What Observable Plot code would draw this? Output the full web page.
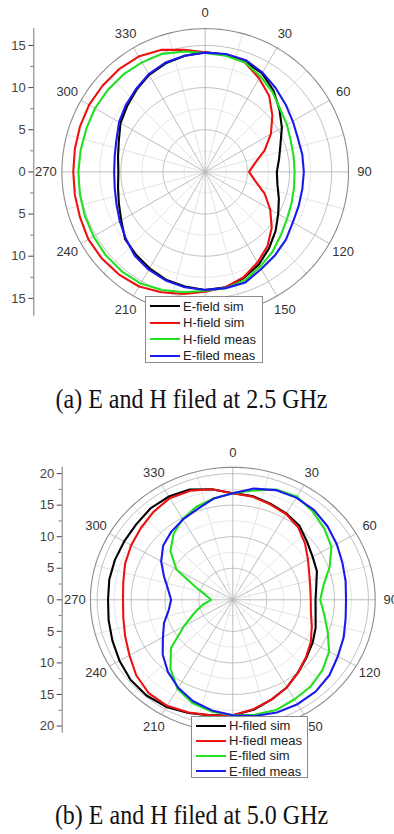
<!DOCTYPE html>
<html><head><meta charset="utf-8">
<script src="https://cdn.jsdelivr.net/npm/d3@7"></script>
<script src="https://cdn.jsdelivr.net/npm/@observablehq/plot@0.6"></script>
<style>
body{margin:0;background:#fff;width:394px;height:834px;position:relative;overflow:hidden;font-family:Arial,"Liberation Sans",sans-serif;}
.panel{position:absolute;left:0;}
.caption{position:absolute;left:0;width:383px;text-align:center;font-family:"Liberation Serif","Times New Roman",serif;font-size:24px;line-height:24px;color:#111;white-space:nowrap;transform:scaleY(1.12);}
.legend{position:absolute;background:#fff;border:1px solid #8a8a8a;font-size:13px;color:#222;box-sizing:border-box;padding-top:1px;}
.legend .row{display:flex;align-items:center;white-space:nowrap;}
.legend .sw{display:inline-block;width:30px;height:0;border-top:2.4px solid;margin:0 3px 0 4px;}
</style></head><body>
<div id="pa" class="panel" style="top:0"></div>
<div id="capA" class="caption" style="top:387px">(a) E and H filed at 2.5 GHz</div>
<div id="pb" class="panel" style="top:420px"></div>
<div id="capB" class="caption" style="top:803px">(b) E and H filed at 5.0 GHz</div>
<script>
// angles (degrees, clockwise from top)
const angles = [0,10,20,30,40,50,60,70,80,90,100,110,120,130,140,150,160,170,180,190,200,210,220,230,240,250,260,270,280,290,300,310,320,330,340,350];
// the 180 label sits under the legend in the original, so it is not shown
const angleLabels = [0,30,60,90,120,150,210,240,270,300,330];
const spokesMajor = [0,30,60,90,120,150,180,210,240,270,300,330];
const spokesMinor = [15,45,75,105,135,165,195,225,255,285,315,345];

// (a) 2.5 GHz
const namesA = ["E-field sim","H-field sim","H-field meas","E-filed meas"];
const eFieldSimA   = [14.2,14.1,13.9,13.5,12.6,11.5,10.5,9.5,8.9,8.5,8.7,9.3,10.0,10.9,11.8,12.7,13.4,13.9,14.0,13.8,13.6,13.2,12.8,12.4,11.5,10.9,10.5,10.3,10.5,10.9,11.6,12.1,12.7,13.3,13.7,14.0];
const hFieldSimA   = [14.2,14.1,13.8,12.8,11.8,10.4,9.0,7.5,6.0,5.2,6.0,7.5,8.9,10.3,11.5,12.4,13.3,13.9,14.2,14.7,15.2,15.7,15.9,16.0,16.0,15.8,15.7,15.65,15.7,15.8,15.9,15.9,15.9,15.8,15.4,14.7];
const hFieldMeasA  = [14.1,14.0,13.8,13.1,12.4,11.6,11.2,10.8,10.65,10.6,10.7,10.9,11.2,11.7,12.4,13.0,13.7,14.0,14.1,14.5,14.9,15.3,15.4,15.4,15.3,15.2,15.1,15.05,15.0,15.0,15.1,15.1,15.1,15.0,14.9,14.5];
const eFiledMeasA  = [14.15,14.2,14.1,13.6,13.0,12.45,12.0,11.7,11.7,11.7,11.7,11.8,12.0,12.5,12.9,13.3,13.95,14.0,14.0,13.9,13.7,13.4,13.0,12.3,11.7,11.2,10.9,10.8,10.9,11.2,11.8,12.3,12.8,13.4,13.8,14.0];
const radialTicksA = [-15,-10,-5,0,5,10,15];
const radialMinorA = [-12.5,-7.5,-2.5,2.5,7.5,12.5];
const circlesMajorA = [5,10,15];
const circlesMinorA = [2.5,7.5,12.5];

// (b) 5.0 GHz
const namesB = ["H-filed sim","H-fiedl meas","E-filed sim","E-filed meas"];
const hFiledSimB   = [16.9,16.7,16.2,15.8,15.3,14.3,13.6,13.2,12.5,12.2,12.4,13.0,13.6,14.2,15.0,16.0,16.8,17.7,18.3,18.6,19.1,19.6,19.8,19.7,19.3,18.9,18.6,18.4,18.5,18.5,18.5,18.6,18.9,18.9,18.6,17.8];
const hFiedlMeasB  = [16.9,16.6,16.1,15.7,15.0,13.9,12.8,12.0,11.6,11.5,11.7,12.4,13.3,14.1,15.0,16.0,16.8,17.6,18.3,18.6,19.0,19.4,19.3,18.6,17.6,16.9,16.4,16.2,16.4,16.9,17.3,17.7,18.2,18.6,18.4,17.8];
const eFiledSimB   = [16.9,17.6,18.6,18.9,18.3,17.6,16.8,15.2,13.6,12.9,13.7,14.9,16.4,17.3,17.9,18.2,18.6,18.5,18.3,18.0,17.4,16.3,14.3,11.9,8.3,6.0,4.5,3.2,4.0,5.8,9.6,12.0,13.6,14.8,15.7,16.3];
const eFiledMeasB  = [16.9,17.9,18.5,18.7,18.6,18.2,17.7,17.2,16.9,16.7,16.9,17.4,17.9,18.6,19.0,19.1,19.0,18.7,18.3,17.8,17.1,16.1,14.9,13.5,11.9,10.8,9.6,9.1,9.7,10.8,12.2,13.4,14.1,14.7,15.3,16.3];
const radialTicksB = [-20,-15,-10,-5,0,5,10,15,20];
const radialMinorB = [-17.5,-12.5,-7.5,-2.5,2.5,7.5,12.5,17.5];
const circlesMajorB = [5,10,15,20];
const circlesMinorB = [2.5,7.5,12.5,17.5];

const colors = ["#000000","#ee1111","#22e022","#1a1aee"];

const rad = d => d * Math.PI / 180;
const X = (r, a) => r * Math.sin(rad(a));
const Y = (r, a) => r * Math.cos(rad(a));

function circlePts(radii) {
  const pts = [];
  for (const r of radii) for (let a = 0; a <= 360; a += 2) pts.push({r, a});
  return pts;
}

function chart(cfg) {
  const {R, pxx, pxy, cx, cy, height, axisLeft, series, names, ticks, minor, cMaj, cMin, labelR} = cfg;
  const rows = [];
  series.forEach((vals, k) => vals.forEach((v, i) => rows.push({s: names[k], k, a: angles[i], v})));
  return Plot.plot({
    width: 394, height,
    marginLeft: axisLeft, marginRight: 0,
    marginTop: cy - R * pxy, marginBottom: height - (cy + R * pxy),
    x: {domain: [-R, R], range: [cx - R * pxx, cx + R * pxx], axis: null},
    y: {domain: [-R, R], range: [cy + R * pxy, cy - R * pxy], axis: null},
    style: {background: "transparent", overflow: "visible", fontFamily: "Arial, 'Liberation Sans', sans-serif"},
    marks: [
      Plot.line(circlePts(cMin), {x: d => X(d.r, d.a), y: d => Y(d.r, d.a), z: "r", stroke: "#e4e4e4", strokeWidth: 0.9}),
      Plot.link(spokesMinor, {x1: 0, y1: 0, x2: a => X(R, a), y2: a => Y(R, a), stroke: "#e0e0e0", strokeWidth: 0.9}),
      Plot.line(circlePts(cMaj), {x: d => X(d.r, d.a), y: d => Y(d.r, d.a), z: "r", stroke: "#b9b9b9", strokeWidth: 0.9}),
      Plot.link(spokesMajor, {x1: 0, y1: 0, x2: a => X(R, a), y2: a => Y(R, a), stroke: "#b5b5b5", strokeWidth: 0.9}),
      Plot.line(circlePts([R]), {x: d => X(d.r, d.a), y: d => Y(d.r, d.a), stroke: "#8c8c8c", strokeWidth: 1.1}),
      Plot.line(rows, {x: d => X(d.v, d.a), y: d => Y(d.v, d.a), z: "s", stroke: d => colors[d.k], strokeWidth: 2.1, curve: "linear-closed"}),
      Plot.text(angleLabels, {x: a => X(labelR, a), y: a => Y(labelR, a), text: a => String(a), fontSize: 13, fill: "#333"}),
      Plot.frame({anchor: "left", stroke: "#777"}),
      Plot.axisY(ticks, {anchor: "left", tickFormat: d => String(Math.abs(d)), tickSize: 5, tickPadding: 3, fontSize: 13, color: "#444"}),
      Plot.axisY(minor, {anchor: "left", tickFormat: null, text: null, tickSize: 3, color: "#777"})
    ]
  });
}

document.getElementById("pa").append(chart({
  R: 17, pxx: 8.43, pxy: 8.43, cx: 204.7, cy: 171.4, height: 372, axisLeft: 33.3,
  series: [eFieldSimA, hFieldSimA, hFieldMeasA, eFiledMeasA], names: namesA,
  ticks: radialTicksA, minor: radialMinorA, cMaj: circlesMajorA, cMin: circlesMinorA, labelR: 18.9
}));
document.getElementById("pb").append(chart({
  R: 21, pxx: 6.78, pxy: 6.31, cx: 232.3, cy: 179.3, height: 370, axisLeft: 61.7,
  series: [hFiledSimB, hFiedlMeasB, eFiledSimB, eFiledMeasB], names: namesB,
  ticks: radialTicksB, minor: radialMinorB, cMaj: circlesMajorB, cMin: circlesMinorB, labelR: 23.3
}));

function legend(parent, names, box) {
  const el = document.createElement("div");
  el.className = "legend";
  Object.assign(el.style, {left: box.left + "px", top: box.top + "px", width: box.w + "px", height: box.h + "px"});
  names.forEach((n, k) => {
    const row = document.createElement("div");
    row.className = "row";
    row.style.height = box.row + "px";
    const sw = document.createElement("span");
    sw.className = "sw";
    sw.style.borderTopColor = colors[k];
    row.append(sw, document.createTextNode(n));
    el.append(row);
  });
  document.body.append(el);
}
legend(document.body, namesA, {left: 145, top: 296, w: 118, h: 67, row: 16.5});
legend(document.body, namesB, {left: 191, top: 716, w: 117, h: 62, row: 15.2});
</script>
</body></html>
